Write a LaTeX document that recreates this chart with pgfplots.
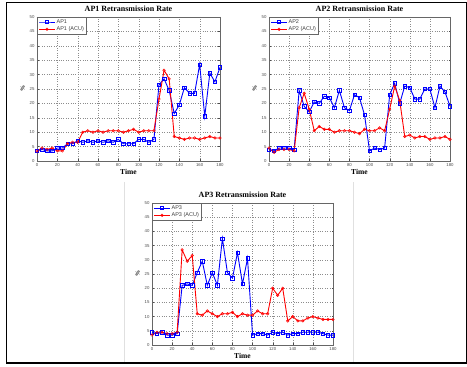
\documentclass[border=0pt]{standalone}
\usepackage{pgfplots}
\pgfplotsset{compat=1.18}
\usepackage{pgfplotstable}
\usepackage{fontspec}
\setmainfont{Liberation Serif}
\newfontfamily\arialfont{Liberation Sans}

\pgfplotstableread{
t b1 r1 b2 r2 b3 r3
0 3.5 3.5 4 4.5 4.5 3.5
5 4 4.5 3.5 3 4 4.5
10 3.5 4 4.5 4 4.5 4.5
15 3.5 4.5 4.5 4 3.5 4
20 4.5 3.5 4.5 4 3.5 4
25 4.5 3.5 4 3.5 4 4.5
30 6 6 24.5 18.5 21 33.5
35 6 6.5 19 23.5 21.5 29.5
40 7 6.5 17 18 21 31.5
45 6.5 10 20.5 10.5 25.5 11
50 7 10.5 20 12 29.5 10.5
55 6.5 10 22.5 11 21 12
60 7 10.5 22 11 25.5 11
65 6.5 10 18.5 10 21 10
70 7 10.5 24.5 10.5 37.5 11
75 6.5 10.5 18.5 10.5 25.5 11
80 7.5 10.5 17.5 10.5 23.5 11.5
85 6 10 23 10 32.5 10
90 6 10.5 22 9.5 21.5 11
95 6 11 16 11 30.5 10.5
100 7.5 10 3.5 10.5 3.5 10.5
105 7.5 10.5 4.5 10.5 4 12
110 6.5 10.5 4 11.5 4 11
115 7.5 10.5 4.5 10.5 3.5 11
120 26.5 21.5 23 18 4.5 20
125 28.5 31.5 27 26 4 17.5
130 24.5 28.5 20 21 4.5 20
135 16.5 8.5 26 8.5 3.5 8.5
140 19.5 8 25.5 9 4 10
145 25.5 7.5 21.5 8 4 8.5
150 23.5 8 21.5 8.5 4.5 8.5
155 23.5 8 25 8.5 4.5 9.5
160 33.5 7.5 25 7.5 4.5 10
165 15.5 8 18.5 8 4.5 9.5
170 30.5 8.5 26 8 4 9
175 27.5 8 24 8.5 3.5 9
180 32.5 8 19 7.5 3.5 9
}\data

\pgfplotsset{
  apstyle/.style={
    scale only axis,
    xmin=0, xmax=180, ymin=0, ymax=50,
    xtick={0,20,...,180}, ytick={0,5,...,50},
    tick align=inside,
    major tick length=1.5pt,
    tick style={black!70, line width=0.3pt},
    axis line style={black!60, line width=0.4pt},
    grid=major,
    grid style={black!45, dotted, line width=0.25pt},
    tick label style={font=\arialfont\fontsize{4.3}{4.3}\selectfont, text=black!70},
    /pgf/number format/assume math mode=true,
    xticklabel style={yshift=1pt},
    yticklabel style={xshift=1pt},
    title style={font=\bfseries\fontsize{8}{9}\selectfont, yshift=-4pt},
    xlabel={Time},
    xlabel style={font=\bfseries\fontsize{7.5}{8}\selectfont, yshift=4pt},
    ylabel={\%},
    ylabel style={font=\bfseries\fontsize{6}{6}\selectfont, yshift=-2pt},
    legend style={at={(0,1)}, anchor=north west, font=\arialfont\fontsize{5.5}{6}\selectfont,
      draw=black!60, line width=0.3pt, inner xsep=1.5pt, inner ysep=1pt, row sep=-0.5pt,
      nodes={inner sep=1.2pt, text=black!75}},
    legend cell align=left,
    legend image code/.code={\draw[mark repeat=2,mark phase=2] plot coordinates {(0pt,0pt) (8pt,0pt) (16pt,0pt)};},
    legend image post style={line width=0.8pt},
  },
  bl/.style={blue, line width=0.9pt, mark=square, mark size=1.7pt, mark options={solid, line width=0.5pt}},
  rd/.style={red, line width=0.9pt, mark=o, mark size=1.3pt, mark options={solid, line width=0.5pt}},
}

\begin{document}
\begin{tikzpicture}
\useasboundingbox (0pt,0pt) rectangle (467pt,367pt);
\fill[white] (0pt,0pt) rectangle (467pt,367pt);
\draw[black!12, line width=0.4pt] (124pt,4pt) -- (124pt,185pt);
\draw[black!12, line width=0.4pt] (353pt,4pt) -- (353pt,185pt);
\draw[black, line width=1.3pt] (6.5pt,4pt) rectangle (466.5pt,364.5pt);

\begin{axis}[apstyle, width=183pt, height=144pt, at={(37pt,206pt)}, anchor=south west,
  title={AP1 Retransmission Rate}]
\addplot[bl] table[x=t,y=b1] {\data};
\addplot[rd] table[x=t,y=r1] {\data};
\legend{AP1, AP1 (ACU)}
\end{axis}

\begin{axis}[apstyle, width=181pt, height=144pt, at={(269pt,206pt)}, anchor=south west,
  title={AP2 Retransmission Rate}]
\addplot[bl] table[x=t,y=b2] {\data};
\addplot[rd] table[x=t,y=r2] {\data};
\legend{AP2, AP2 (ACU)}
\end{axis}

\begin{axis}[apstyle, width=181pt, height=142pt, at={(152pt,22pt)}, anchor=south west,
  title={AP3 Retransmission Rate}]
\addplot[bl] table[x=t,y=b3] {\data};
\addplot[rd] table[x=t,y=r3] {\data};
\legend{AP3, AP3 (ACU)}
\end{axis}
\end{tikzpicture}
\end{document}
